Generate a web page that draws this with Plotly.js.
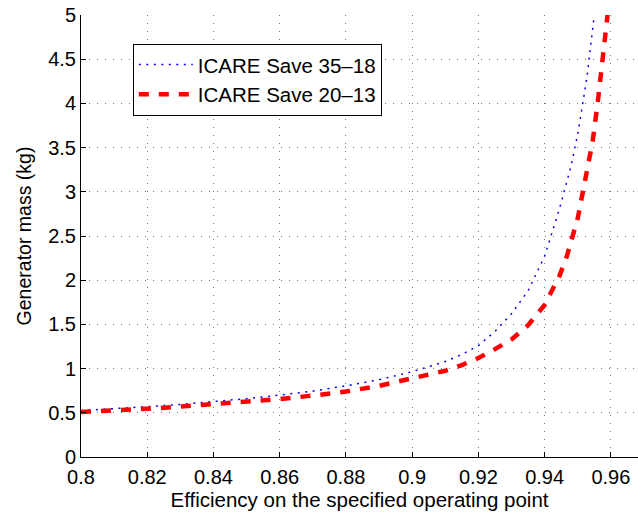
<!DOCTYPE html>
<html>
<head>
<meta charset="utf-8">
<script src="https://cdn.plot.ly/plotly-3.0.1.min.js"></script>
<style>html,body{margin:0;padding:0;background:#fff;}#chart{width:638px;height:513px;}</style>
</head>
<body>
<div id="chart"></div>
<script>
// Series names
const seriesNames = ["ICARE Save 35\u201318", "ICARE Save 20\u201313"];

// ICARE Save 35-18 (blue dotted)
const effA = [0.800, 0.810, 0.820, 0.830, 0.840, 0.850, 0.860, 0.870, 0.880, 0.890, 0.900, 0.910, 0.915, 0.920, 0.925, 0.930, 0.935, 0.940, 0.9445, 0.9479, 0.9500, 0.9528, 0.9550];
const massA = [0.525, 0.545, 0.570, 0.595, 0.625, 0.660, 0.700, 0.745, 0.805, 0.875, 0.965, 1.080, 1.160, 1.260, 1.420, 1.620, 1.880, 2.270, 2.810, 3.280, 3.650, 4.300, 5.000];

// ICARE Save 20-13 (red dashed)
const effB = [0.800, 0.810, 0.820, 0.830, 0.840, 0.850, 0.860, 0.870, 0.880, 0.890, 0.900, 0.910, 0.915, 0.920, 0.925, 0.930, 0.935, 0.940, 0.9445, 0.9467, 0.9500, 0.9525, 0.9545, 0.9561, 0.9576, 0.9590];
const massB = [0.510, 0.525, 0.545, 0.570, 0.595, 0.625, 0.655, 0.695, 0.740, 0.805, 0.885, 0.975, 1.040, 1.120, 1.220, 1.330, 1.490, 1.720, 2.050, 2.270, 2.700, 3.150, 3.570, 4.030, 4.480, 5.000];

// Tick values / labels
const xTicks = [0.80, 0.82, 0.84, 0.86, 0.88, 0.90, 0.92, 0.94, 0.96];
const xTickLabels = ["0.8", "0.82", "0.84", "0.86", "0.88", "0.9", "0.92", "0.94", "0.96"];
const yTicks = [0, 0.5, 1, 1.5, 2, 2.5, 3, 3.5, 4, 4.5, 5];
const yTickLabels = ["0", "0.5", "1", "1.5", "2", "2.5", "3", "3.5", "4", "4.5", "5"];

const FONT = "Liberation Sans, Arial, Helvetica, sans-serif";

const traces = [
  {
    x: effA, y: massA, name: seriesNames[0], type: "scatter", mode: "lines",
    line: {color: "#0000ff", width: 1.5, dash: "2px,5.5px"}
  },
  {
    x: effB, y: massB, name: seriesNames[1], type: "scatter", mode: "lines",
    line: {color: "#ff0000", width: 4.5, dash: "10px,10px"}
  }
];

const axisCommon = {
  showline: true, linecolor: "#000", linewidth: 1,
  ticks: "inside", ticklen: 5, tickcolor: "#000", tickwidth: 1,
  showgrid: true, gridcolor: "#777", gridwidth: 1, griddash: "1px,7px",
  zeroline: false, mirror: false,
  tickfont: {family: FONT, size: 20, color: "#000"}
};

const layout = {
  width: 638, height: 513,
  margin: {l: 81, r: 0, t: 15, b: 56, pad: 0},
  paper_bgcolor: "#fff", plot_bgcolor: "#fff",
  font: {family: FONT, size: 20, color: "#000"},
  showlegend: true,
  xaxis: Object.assign({}, axisCommon, {
    range: [0.8, 0.9682],
    tickvals: xTicks, ticktext: xTickLabels,
    ticklabelstandoff: 2,
    title: {text: "Efficiency on the specified operating point", font: {family: FONT, size: 20.5, color: "#000"}, standoff: 3}
  }),
  yaxis: Object.assign({}, axisCommon, {
    range: [0, 5],
    tickvals: yTicks, ticktext: yTickLabels,
    title: {text: "Generator mass (kg)", font: {family: FONT, size: 19.5, color: "#000"}, standoff: 11}
  }),
  legend: {
    x: 0.093, y: 0.935, xanchor: "left", yanchor: "top",
    bgcolor: "#fff", bordercolor: "#000", borderwidth: 1,
    font: {family: FONT, size: 20.5, color: "#000"},
    itemwidth: 54, tracegroupgap: 0
  }
};

Plotly.newPlot("chart", traces, layout, {displayModeBar: false, staticPlot: true});
</script>
</body>
</html>
